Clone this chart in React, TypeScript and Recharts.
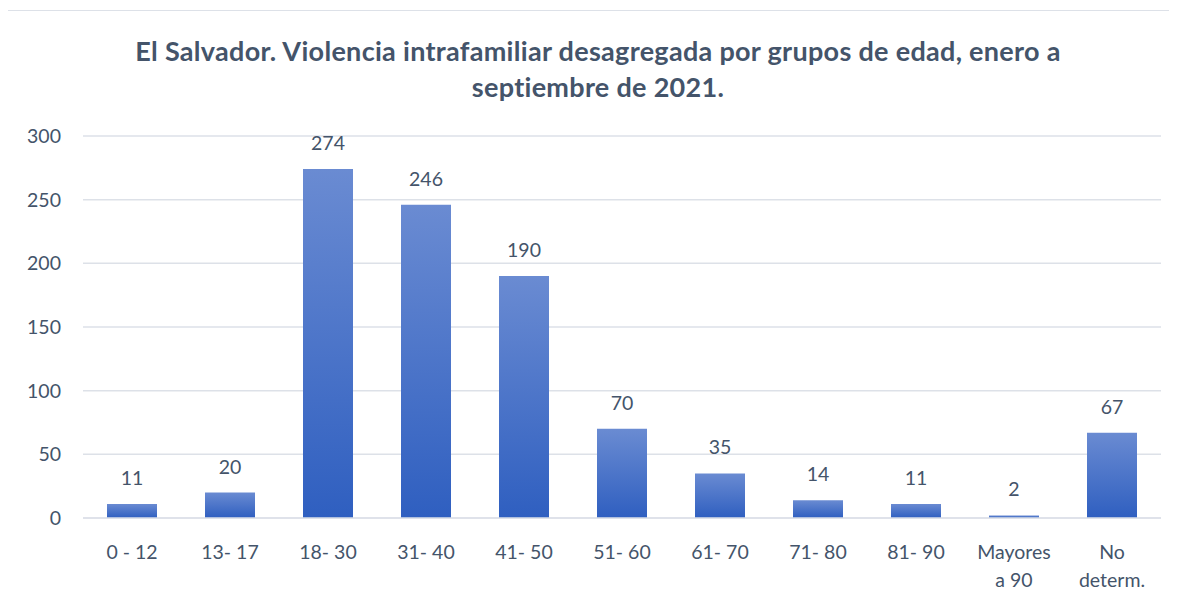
import React from 'react';
import { Bar, BarChart, CartesianGrid, LabelList, XAxis, YAxis } from 'recharts';

const ageGroups = ['0 - 12', '13- 17', '18- 30', '31- 40', '41- 50', '51- 60', '61- 70', '71- 80', '81- 90', 'Mayores\na 90', 'No\ndeterm.'];
const cases = [11, 20, 274, 246, 190, 70, 35, 14, 11, 2, 67];
const yTicks = [0, 50, 100, 150, 200, 250, 300];

const data = ageGroups.map((group, i) => ({ group, cases: cases[i] }));

const TEXT = '#44546A';
const GRID = '#DDE1E8';
const FONT = 'Lato, "Open Sans", sans-serif';

function GroupTick({ x, y, payload }: any) {
  const lines = String(payload.value).split('\n');
  return (
    <text x={x} y={y} textAnchor="middle" fill={TEXT} fontSize={19.5} fontFamily={FONT}>
      {lines.map((line, i) => (
        <tspan key={i} x={x} dy={i === 0 ? 33 : 28}>{line}</tspan>
      ))}
    </text>
  );
}

export default function App() {
  return (
    <div style={{ marginLeft: -1, marginTop: 2, width: 1180, borderTop: `1px solid ${GRID}`, borderLeft: `1px solid ${GRID}`, position: 'relative', fontFamily: FONT }}>
      <div style={{ position: 'absolute', left: 0, top: 22, width: 1180, textAlign: 'center', color: TEXT, fontWeight: 700, fontSize: 27, letterSpacing: 0.3, lineHeight: '36px' }}>
        El Salvador. Violencia intrafamiliar desagregada por grupos de edad, enero a<br />septiembre de 2021.
      </div>
      <BarChart width={1170} height={590} data={data} margin={{ top: 125, right: 17, left: 15, bottom: 23 }}>
        <defs>
          <linearGradient id="barFill" x1="0" y1="0" x2="0" y2="1">
            <stop offset="0%" stopColor="#6A8BD2" />
            <stop offset="100%" stopColor="#2F5FC0" />
          </linearGradient>
        </defs>
        <CartesianGrid vertical={false} stroke={GRID} strokeWidth={1.5} />
        <XAxis dataKey="group" interval={0} height={60} axisLine={{ stroke: GRID, strokeWidth: 1.5 }} tickLine={false} tick={<GroupTick />} />
        <YAxis width={60} domain={[0, 300]} ticks={yTicks} axisLine={false} tickLine={false} tickSize={0} tickMargin={22} tick={{ fill: TEXT, fontSize: 19.5, fontFamily: FONT }} />
        <Bar dataKey="cases" fill="url(#barFill)" barSize={50} isAnimationActive={false}>
          <LabelList dataKey="cases" position="top" offset={19} fill={TEXT} fontSize={19.5} fontFamily={FONT} />
        </Bar>
      </BarChart>
    </div>
  );
}
